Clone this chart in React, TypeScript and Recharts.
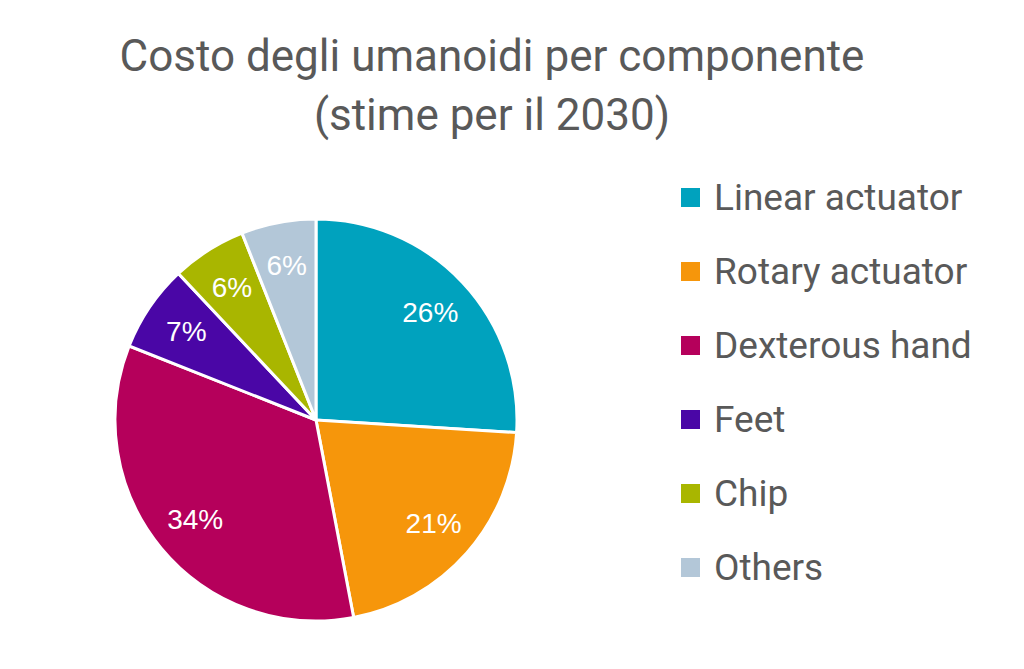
import React from 'react';
import { PieChart, Pie, Cell } from 'recharts';

// Dati
const componenti = ['Linear actuator', 'Rotary actuator', 'Dexterous hand', 'Feet', 'Chip', 'Others'];
const quote = [26, 21, 34, 7, 6, 6];
const colori = ['#00A2BE', '#F6960B', '#B5005B', '#4A06A6', '#A9B600', '#B3C7D8'];

const titolo = ['Costo degli umanoidi per componente', '(stime per il 2030)'];

const data = componenti.map((name, i) => ({ name, value: quote[i], color: colori[i] }));

const RAD = Math.PI / 180;
const FONT = 'Roboto, "Open Sans", sans-serif';

const renderLabel = (props: any) => {
  const { cx, cy, midAngle, outerRadius, value } = props;
  const r = outerRadius * 0.78;
  const x = cx + r * Math.cos(-midAngle * RAD);
  const y = cy + r * Math.sin(-midAngle * RAD);
  return (
    <text
      x={x}
      y={y}
      fill="#FFFFFF"
      textAnchor="middle"
      dominantBaseline="central"
      style={{ fontFamily: '"Liberation Sans", Arial, sans-serif', fontSize: 28 }}
    >
      {`${value}%`}
    </text>
  );
};

// legenda verticale a destra, nell'ordine delle fette
const Legenda = () => (
  <ul style={{ position: 'absolute', left: 681, top: 160, listStyle: 'none', margin: 0, padding: 0 }}>
    {data.map((d) => (
      <li
        key={d.name}
        style={{ display: 'flex', alignItems: 'center', height: 74, fontFamily: FONT, fontSize: 37, color: '#595959' }}
      >
        <span style={{ display: 'inline-block', width: 19, height: 19, background: d.color, marginRight: 14 }} />
        {d.name}
      </li>
    ))}
  </ul>
);

export default function App() {
  return (
    <div style={{ position: 'absolute', left: 0, top: 0, width: 1024, height: 669, background: '#FFFFFF' }}>
      <div
        style={{
          position: 'absolute',
          left: 0,
          top: 27,
          width: 984,
          textAlign: 'center',
          fontFamily: FONT,
          fontSize: 44,
          lineHeight: '59px',
          color: '#595959',
        }}
      >
        {titolo.map((t) => (
          <div key={t}>{t}</div>
        ))}
      </div>
      <PieChart
        width={1024}
        height={669}
        margin={{ top: 0, right: 0, bottom: 0, left: 0 }}
        style={{ position: 'absolute', left: 0, top: 0 }}
      >
        <Pie
          data={data}
          dataKey="value"
          nameKey="name"
          cx={316}
          cy={420}
          outerRadius={201}
          startAngle={90}
          endAngle={-270}
          stroke="#FFFFFF"
          strokeWidth={3}
          label={renderLabel}
          labelLine={false}
          isAnimationActive={false}
        >
          {data.map((d) => (
            <Cell key={d.name} fill={d.color} />
          ))}
        </Pie>
      </PieChart>
      <Legenda />
    </div>
  );
}
